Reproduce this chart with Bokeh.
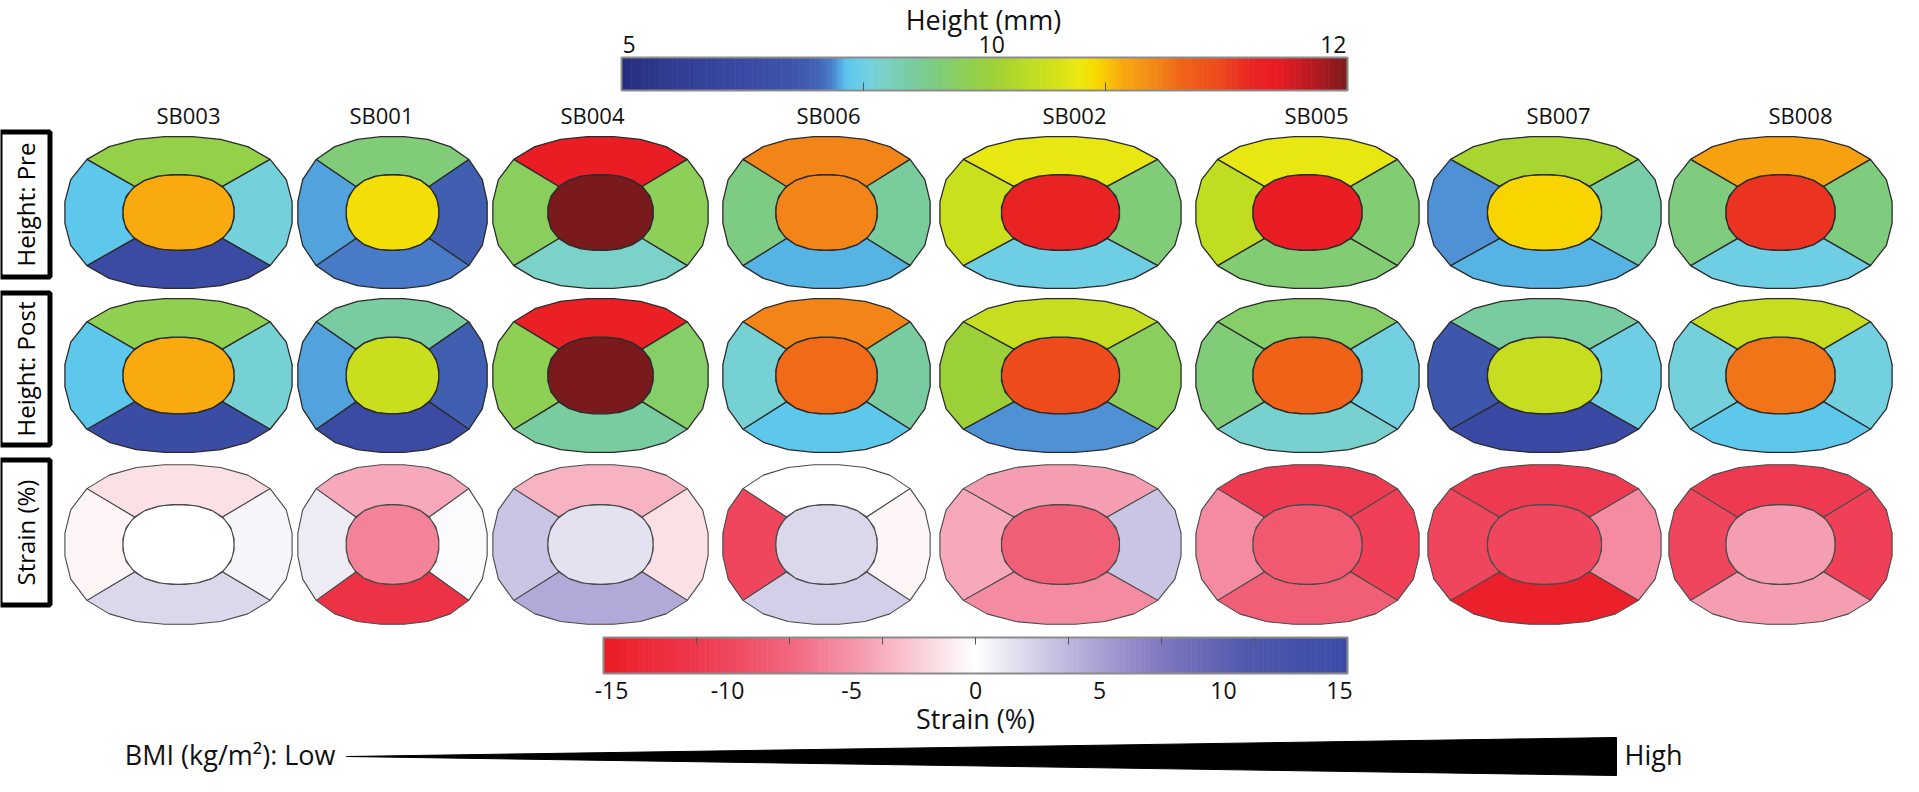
import numpy as np
from bokeh.plotting import figure
from bokeh.models import Range1d, ColumnDataSource
from bokeh.embed import file_html
from bokeh.resources import INLINE
from bokeh.core.properties import value

# ---------------- data ----------------
specimens = ["SB003", "SB001", "SB004", "SB006", "SB002", "SB005", "SB007", "SB008"]
row_labels = ["Height: Pre", "Height: Post", "Strain (%)"]
# region order: center, top, right, bottom, left
height_pre = [
    [10.73, 9.80, 8.38, 6.76, 8.09],   # SB003
    [10.55, 9.31, 7.55, 7.80, 7.94],   # SB001
    [12.00, 11.60, 9.60, 8.53, 9.56],  # SB004
    [10.94, 10.94, 8.97, 7.99, 9.20],  # SB006
    [11.50, 10.47, 9.30, 8.28, 10.30], # SB002
    [11.60, 10.47, 9.36, 9.36, 10.24], # SB005
    [10.60, 10.08, 8.82, 7.99, 7.89],  # SB007
    [11.39, 10.78, 9.25, 8.28, 9.25],  # SB008
]
height_post = [
    [10.73, 9.70, 8.43, 6.80, 8.09],   # SB003
    [10.29, 8.92, 7.55, 6.76, 7.94],   # SB001
    [12.00, 11.53, 9.46, 8.92, 9.66],  # SB004
    [11.04, 10.94, 8.92, 8.09, 8.43],  # SB006
    [11.27, 10.27, 9.56, 7.89, 10.00], # SB002
    [11.08, 9.46, 8.33, 8.48, 9.31],   # SB005
    [10.27, 8.92, 8.28, 6.67, 7.35],   # SB007
    [11.00, 10.27, 8.33, 8.09, 8.38],  # SB008
]
strain = [
    [0.0, -1.5, 0.5, 2.0, -0.5],       # SB003
    [-6.0, -4.0, 0.2, -12.0, 1.0],     # SB001
    [1.5, -3.5, -1.5, 4.5, 3.0],       # SB004
    [2.0, 0.0, -0.5, 2.5, -10.0],      # SB006
    [-8.0, -4.5, 3.0, -5.5, -4.0],     # SB002
    [-8.5, -11.0, -10.5, -8.0, -5.5],  # SB005
    [-10.0, -11.0, -5.5, -14.5, -10.0],# SB007
    [-4.5, -11.0, -10.5, -4.5, -10.0], # SB008
]
height_ticks = [5, 10, 12]
strain_ticks = [-15, -10, -5, 0, 5, 10, 15]

# ---------------- styles / layout ----------------
FONT = value("Open Sans")
col_cx = [186, 400, 608, 834, 1068, 1315, 1552, 1788]
col_hw = [114, 95, 108, 104, 121, 112, 117, 112]
label_x = [196, 389, 600, 836, 1082, 1324, 1566, 1808]
row_cy = [220, 383, 552]
row_hh = [76, 77, 80]

height_stops = [
    (0.00, "#262c7c"), (0.06, "#2f3b8f"), (0.17, "#3a49a3"), (0.24, "#3e56ac"),
    (0.27, "#4264b4"), (0.29, "#4a80cc"), (0.31, "#5ac6ee"), (0.34, "#72d0e0"),
    (0.36, "#7ad2c8"), (0.40, "#78cca0"), (0.44, "#80cc78"), (0.47, "#8cd058"),
    (0.51, "#9cd038"), (0.56, "#bcdc24"), (0.60, "#d4e218"), (0.63, "#ece810"),
    (0.655, "#f8d800"), (0.69, "#f8a80e"), (0.74, "#f28418"), (0.77, "#f06418"),
    (0.82, "#ee4c1c"), (0.87, "#e82424"), (0.90, "#ec1c24"), (0.95, "#b81a20"),
    (1.00, "#7a1a1c"),
]
strain_stops = [
    (-15, "#ec1c24"), (-11, "#ee3a50"), (-7.5, "#f2657e"), (-4, "#f7a8ba"),
    (-1.5, "#fbe0e6"), (0, "#ffffff"), (1.5, "#e4e2f0"), (4, "#b9b2dc"),
    (7.5, "#8078c0"), (11, "#5058ac"), (15, "#3a4ba6"),
]


def hex2rgb(h):
    h = h.lstrip("#")
    return np.array([int(h[i:i + 2], 16) for i in (0, 2, 4)], dtype=float)


def interp(stops, t):
    pos = [s[0] for s in stops]
    t = min(max(t, pos[0]), pos[-1])
    for i in range(len(stops) - 1):
        if pos[i] <= t <= pos[i + 1]:
            a = (t - pos[i]) / (pos[i + 1] - pos[i]) if pos[i + 1] > pos[i] else 0
            c = hex2rgb(stops[i][1]) * (1 - a) + hex2rgb(stops[i + 1][1]) * a
            return "#%02x%02x%02x" % tuple(int(round(v)) for v in c)
    return stops[-1][1]


def height_frac(v):
    # position of a height value along the colour bar (5 -> 0, 10 -> 0.51, 12 -> 1)
    return np.interp(v, height_ticks, [0.0, 0.51, 1.0])


def height_color(v):
    return interp(height_stops, height_frac(v))


def strain_color(v):
    return interp(strain_stops, v)


def superellipse(deg, n, a, b):
    t = np.radians(deg)
    c, s = np.cos(t), np.sin(t)
    r = (np.abs(c) ** n + np.abs(s) ** n) ** (-1.0 / n)
    return a * c * r, b * s * r


CORNER = 41
arcs = {
    "top": (CORNER, 180 - CORNER, 8),
    "right": (-CORNER, CORNER, 6),
    "bottom": (180 + CORNER, 360 - CORNER, 8),
    "left": (180 - CORNER, 180 + CORNER, 6),
}
OUT_N, IN_N, IN_FX, IN_FY = 2.45, 2.3, 0.49, 0.5


def cell_polys(cx, cy, hw, hh):
    polys = []
    ang = np.linspace(0, 360, 21)[:-1]
    ix, iy = superellipse(ang, IN_N, hw * IN_FX, hh * IN_FY)
    polys.append((cx + ix, cy - iy))
    for key in ["top", "right", "bottom", "left"]:
        a0, a1, k = arcs[key]
        ang = np.linspace(a0, a1, k)
        ox, oy = superellipse(ang, OUT_N, hw, hh)
        ix, iy = superellipse(ang[::-1], IN_N, hw * IN_FX, hh * IN_FY)
        polys.append((cx + np.concatenate([ox, ix]), cy - np.concatenate([oy, iy])))
    return polys


# ---------------- figure ----------------
W, H = 1903, 776
p = figure(width=W, height=H, x_range=Range1d(8, 8 + W), y_range=Range1d(8 + H, 8),
           output_backend="svg", toolbar_location=None, min_border=0)
p.axis.visible = False
p.grid.visible = False
p.outline_line_color = None

xs, ys, fills, lcol, lw = [], [], [], [], []
for r, data in enumerate([height_pre, height_post, strain]):
    for c, name in enumerate(specimens):
        polys = cell_polys(col_cx[c], row_cy[r], col_hw[c], row_hh[r])
        for k, (px, py) in enumerate(polys):
            v = data[c][k]
            xs.append(list(px))
            ys.append(list(py))
            fills.append(strain_color(v) if r == 2 else height_color(v))
            lcol.append("#4a4a4a" if r == 2 else "#2b2b2b")
            lw.append(1.1 if r == 2 else 1.3)
p.patches(xs="xs", ys="ys", fill_color="fill", line_color="lc", line_width="lw",
          source=ColumnDataSource(dict(xs=xs, ys=ys, fill=fills, lc=lcol, lw=lw)))

# column labels
p.text(x=label_x, y=[122] * len(specimens), text=specimens, text_font=FONT,
       text_font_size="22px", text_align="center", text_baseline="middle", text_color="#111111")

# row label boxes
box_cy = [212, 376.5, 540]
box_h = [145, 152, 145]
p.rect(x=[32.5] * 3, y=box_cy, width=50, height=box_h, fill_color=None,
       line_color="black", line_width=5)
p.text(x=[33] * 3, y=box_cy, text=row_labels, angle=np.pi / 2, text_font=FONT,
       text_font_size="24px", text_align="center", text_baseline="middle", text_color="black")

# ---------------- height colour bar ----------------
hx0, hx1, hy0, hy1 = 629, 1355, 65, 98
N = 300
fr = np.linspace(0, 1, N + 1)
p.quad(left=hx0 + fr[:-1] * (hx1 - hx0), right=hx0 + fr[1:] * (hx1 - hx0) + 0.6,
       top=[hy0] * N, bottom=[hy1] * N,
       fill_color=[interp(height_stops, (a + b) / 2) for a, b in zip(fr[:-1], fr[1:])],
       line_color=None)
p.quad(left=[hx0], right=[hx1], top=[hy0], bottom=[hy1], fill_color=None,
       line_color="#8c8c8c", line_width=2)
for f in [1 / 3, 2 / 3]:
    xt = hx0 + f * (hx1 - hx0)
    p.segment(x0=[xt], x1=[xt], y0=[hy1], y1=[hy1 - 8], line_color="#555555", line_width=1)
hpos = [hx0 + height_frac(v) * (hx1 - hx0) for v in height_ticks]
for i, (al, dx) in enumerate([("left", 1), ("center", 0), ("right", -1)]):
    p.text(x=[hpos[i] + dx], y=[52], text=[str(height_ticks[i])], text_font=FONT,
           text_font_size="23px", text_align=al, text_baseline="middle", text_color="#111111")
p.text(x=[991], y=[27], text=["Height (mm)"], text_font=FONT, text_font_size="27px",
       text_align="center", text_baseline="middle", text_color="#111111")

# ---------------- strain colour bar ----------------
sx0, sx1, sy0, sy1 = 611, 1355, 645, 681
sv = np.linspace(-15, 15, N + 1)
sxp = sx0 + (sv + 15) / 30 * (sx1 - sx0)
p.quad(left=sxp[:-1], right=sxp[1:] + 0.6, top=[sy0] * N, bottom=[sy1] * N,
       fill_color=[strain_color((a + b) / 2) for a, b in zip(sv[:-1], sv[1:])], line_color=None)
p.quad(left=[sx0], right=[sx1], top=[sy0], bottom=[sy1], fill_color=None,
       line_color="#8c8c8c", line_width=2)
minor = np.linspace(-15, 15, 9)[1:-1]
mx = sx0 + (minor + 15) / 30 * (sx1 - sx0)
p.segment(x0=mx, x1=mx, y0=[sy0] * len(mx), y1=[sy0 + 7] * len(mx), line_color="#555555", line_width=1)
tx = [sx0 + (t + 15) / 30 * (sx1 - sx0) for t in strain_ticks]
tx[0] += 8
tx[-1] -= 8
p.text(x=tx, y=[698] * len(tx), text=[str(t) for t in strain_ticks], text_font=FONT,
       text_font_size="23px", text_align="center", text_baseline="middle", text_color="#111111")
p.text(x=[983], y=[726], text=["Strain (%)"], text_font=FONT, text_font_size="27px",
       text_align="center", text_baseline="middle", text_color="#111111")

# ---------------- BMI wedge ----------------
p.patch(x=[354, 1624, 1624], y=[764, 745, 783], fill_color="black", line_color="black")
p.text(x=[343], y=[762], text=["BMI (kg/m²): Low"], text_font=FONT, text_font_size="27px",
       text_align="right", text_baseline="middle", text_color="#111111")
p.text(x=[1632], y=[762], text=["High"], text_font=FONT, text_font_size="27px",
       text_align="left", text_baseline="middle", text_color="#111111")

open("out.html", "w").write(file_html(p, INLINE))
